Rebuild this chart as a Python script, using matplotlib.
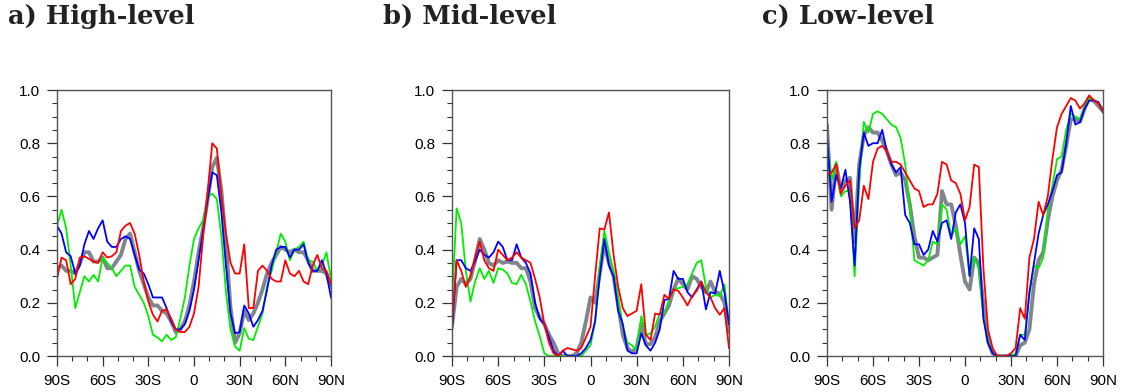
import numpy as np
import matplotlib
matplotlib.use("Agg")
import matplotlib.pyplot as plt
from matplotlib.ticker import MultipleLocator

# latitude grid, 3 degree spacing from 90S to 90N
lat = np.arange(-90, 91, 3)

xtick_pos = [-90, -60, -30, 0, 30, 60, 90]
xtick_lab = ["90S", "60S", "30S", "0", "30N", "60N", "90N"]
titles = ["a) High-level", "b) Mid-level", "c) Low-level"]

# -------------------------------
# a) high-level
# -------------------------------
high_gray = [0.33, 0.34, 0.32, 0.32, 0.31, 0.35, 0.39, 0.39, 0.355, 0.355, 0.37, 0.33, 0.33, 0.355, 0.38, 0.44,
             0.46, 0.39, 0.32, 0.27, 0.22, 0.19, 0.19, 0.17, 0.16, 0.13, 0.09, 0.10, 0.13, 0.19, 0.28,
             0.39, 0.48, 0.59, 0.71, 0.745, 0.62, 0.42, 0.18, 0.05, 0.085, 0.17, 0.135, 0.16, 0.20, 0.25,
             0.31, 0.35, 0.38, 0.41, 0.40, 0.39, 0.40, 0.39, 0.39, 0.36, 0.32, 0.32, 0.32, 0.31, 0.26]
high_blue = [0.49, 0.46, 0.39, 0.375, 0.31, 0.34, 0.42, 0.47, 0.44, 0.48, 0.51, 0.43, 0.41, 0.41, 0.44, 0.45,
             0.44, 0.38, 0.325, 0.31, 0.27, 0.22, 0.22, 0.22, 0.18, 0.13, 0.10, 0.10, 0.12, 0.17, 0.25,
             0.36, 0.47, 0.59, 0.69, 0.68, 0.54, 0.34, 0.16, 0.085, 0.09, 0.19, 0.16, 0.11, 0.135, 0.17,
             0.25, 0.34, 0.40, 0.41, 0.41, 0.37, 0.40, 0.40, 0.42, 0.35, 0.32, 0.32, 0.36, 0.31, 0.22]
high_red = [0.29, 0.37, 0.36, 0.27, 0.29, 0.37, 0.375, 0.365, 0.355, 0.35, 0.39, 0.37, 0.375, 0.39, 0.47, 0.49,
            0.50, 0.46, 0.38, 0.28, 0.205, 0.155, 0.13, 0.17, 0.175, 0.14, 0.10, 0.09, 0.09, 0.11, 0.16,
            0.26, 0.45, 0.62, 0.80, 0.78, 0.60, 0.46, 0.35, 0.31, 0.31, 0.42, 0.18, 0.18, 0.32, 0.34,
            0.32, 0.29, 0.28, 0.28, 0.36, 0.31, 0.30, 0.32, 0.28, 0.27, 0.34, 0.38, 0.33, 0.32, 0.27]
high_green = [0.49, 0.55, 0.48, 0.34, 0.18, 0.24, 0.30, 0.28, 0.305, 0.28, 0.37, 0.35, 0.33, 0.30, 0.32, 0.34,
              0.34, 0.26, 0.23, 0.20, 0.15, 0.08, 0.07, 0.055, 0.08, 0.06, 0.07, 0.14, 0.22, 0.34, 0.44,
              0.48, 0.51, 0.60, 0.61, 0.59, 0.45, 0.24, 0.10, 0.035, 0.02, 0.105, 0.065, 0.06, 0.11, 0.16,
              0.26, 0.32, 0.39, 0.46, 0.43, 0.36, 0.40, 0.41, 0.43, 0.36, 0.355, 0.32, 0.34, 0.39, 0.29]

# -------------------------------
# b) mid-level
# -------------------------------
mid_gray = [0.11, 0.26, 0.29, 0.27, 0.29, 0.36, 0.44, 0.40, 0.35, 0.34, 0.36, 0.35, 0.355, 0.35, 0.35, 0.33,
            0.33, 0.28, 0.18, 0.145, 0.12, 0.08, 0.05, 0.01, 0.0, 0.0, 0.0, 0.01, 0.05, 0.13, 0.22,
            0.20, 0.31, 0.42, 0.35, 0.30, 0.19, 0.08, 0.03, 0.015, 0.03, 0.12, 0.045, 0.045, 0.07, 0.13,
            0.16, 0.19, 0.25, 0.29, 0.27, 0.25, 0.30, 0.29, 0.26, 0.24, 0.28, 0.24, 0.235, 0.20, 0.09]
mid_blue = [0.10, 0.36, 0.36, 0.33, 0.32, 0.355, 0.40, 0.38, 0.37, 0.39, 0.43, 0.41, 0.36, 0.36, 0.42, 0.37,
            0.35, 0.31, 0.20, 0.14, 0.12, 0.07, 0.02, 0.0, 0.02, 0.0, 0.0, 0.0, 0.01, 0.03, 0.06,
            0.13, 0.30, 0.44, 0.34, 0.30, 0.17, 0.12, 0.02, 0.01, 0.01, 0.085, 0.04, 0.02, 0.05, 0.10,
            0.21, 0.215, 0.32, 0.29, 0.29, 0.24, 0.22, 0.25, 0.28, 0.175, 0.24, 0.235, 0.32, 0.24, 0.12]
mid_red = [0.12, 0.36, 0.32, 0.26, 0.30, 0.37, 0.43, 0.36, 0.33, 0.32, 0.40, 0.38, 0.36, 0.37, 0.39, 0.37,
           0.36, 0.35, 0.29, 0.22, 0.12, 0.05, 0.01, 0.0, 0.02, 0.03, 0.025, 0.02, 0.03, 0.07, 0.11,
           0.30, 0.48, 0.475, 0.54, 0.38, 0.26, 0.18, 0.15, 0.16, 0.17, 0.27, 0.08, 0.06, 0.16, 0.155,
           0.23, 0.215, 0.25, 0.245, 0.22, 0.19, 0.225, 0.245, 0.28, 0.24, 0.22, 0.18, 0.155, 0.18, 0.03]
mid_green = [0.20, 0.555, 0.50, 0.32, 0.205, 0.28, 0.33, 0.29, 0.32, 0.275, 0.33, 0.325, 0.31, 0.275, 0.27, 0.305,
             0.27, 0.205, 0.13, 0.075, 0.01, 0.0, 0.0, 0.0, 0.0, 0.0, 0.0, 0.0, 0.0, 0.02, 0.04,
             0.13, 0.34, 0.47, 0.39, 0.32, 0.22, 0.11, 0.05, 0.04, 0.02, 0.15, 0.08, 0.085, 0.11, 0.16,
             0.16, 0.21, 0.25, 0.255, 0.26, 0.27, 0.31, 0.35, 0.36, 0.26, 0.22, 0.23, 0.225, 0.27, 0.12]

# -------------------------------
# c) low-level
# -------------------------------
low_gray = [0.865, 0.55, 0.72, 0.62, 0.66, 0.67, 0.43, 0.72, 0.83, 0.86, 0.84, 0.84, 0.81, 0.77, 0.72, 0.68,
            0.69, 0.66, 0.57, 0.45, 0.37, 0.37, 0.36, 0.37, 0.38, 0.62, 0.57, 0.57, 0.49, 0.38, 0.28,
            0.25, 0.37, 0.35, 0.19, 0.055, 0.01, 0.0, 0.0, 0.0, 0.0, 0.0, 0.04, 0.05, 0.10, 0.27,
            0.36, 0.39, 0.51, 0.60, 0.66, 0.70, 0.79, 0.89, 0.89, 0.88, 0.93, 0.97, 0.96, 0.94, 0.92]
low_blue = [0.83, 0.58, 0.68, 0.63, 0.70, 0.58, 0.34, 0.70, 0.84, 0.79, 0.80, 0.80, 0.85, 0.77, 0.72, 0.69,
            0.71, 0.53, 0.50, 0.42, 0.42, 0.38, 0.40, 0.47, 0.43, 0.50, 0.51, 0.44, 0.54, 0.57, 0.50,
            0.30, 0.48, 0.44, 0.14, 0.05, 0.01, 0.0, 0.0, 0.0, 0.0, 0.0, 0.08, 0.06, 0.24, 0.35,
            0.46, 0.53, 0.57, 0.62, 0.68, 0.69, 0.80, 0.94, 0.87, 0.88, 0.93, 0.96, 0.96, 0.955, 0.92]
low_red = [0.68, 0.69, 0.72, 0.61, 0.64, 0.66, 0.48, 0.51, 0.64, 0.59, 0.73, 0.78, 0.79, 0.77, 0.73, 0.73,
           0.72, 0.69, 0.66, 0.63, 0.62, 0.56, 0.57, 0.57, 0.61, 0.73, 0.72, 0.66, 0.65, 0.61, 0.51,
           0.56, 0.72, 0.71, 0.33, 0.10, 0.03, 0.0, 0.0, 0.0, 0.01, 0.03, 0.18, 0.14, 0.37, 0.44,
           0.58, 0.53, 0.60, 0.74, 0.86, 0.91, 0.94, 0.97, 0.96, 0.93, 0.95, 0.98, 0.96, 0.95, 0.92]
low_green = [0.81, 0.66, 0.73, 0.60, 0.62, 0.62, 0.30, 0.65, 0.88, 0.84, 0.91, 0.92, 0.91, 0.89, 0.87, 0.86,
             0.82, 0.72, 0.56, 0.36, 0.35, 0.34, 0.36, 0.43, 0.42, 0.57, 0.55, 0.45, 0.48, 0.42, 0.45,
             0.30, 0.37, 0.33, 0.15, 0.06, 0.01, 0.0, 0.0, 0.0, 0.0, 0.01, 0.08, 0.08, 0.23, 0.34,
             0.33, 0.37, 0.55, 0.64, 0.74, 0.75, 0.85, 0.91, 0.90, 0.89, 0.94, 0.97, 0.96, 0.95, 0.93]

panels = [
    (high_gray, high_green, high_blue, high_red),
    (mid_gray, mid_green, mid_blue, mid_red),
    (low_gray, low_green, low_blue, low_red),
]

# axes positions in figure fraction
lefts = [57 / 1122, 452 / 1122, 827 / 1122]
widths = [274 / 1122, 277 / 1122, 276 / 1122]
title_x = [8 / 1122, 383 / 1122, 762 / 1122]
bottom = 36 / 392
height = 266 / 392

fig = plt.figure(figsize=(11.22, 3.92), dpi=100)

for i, (gray, green, blue, red) in enumerate(panels):
    ax = fig.add_axes([lefts[i], bottom, widths[i], height])
    ax.plot(lat, gray, color="#7f868e", lw=2.8, solid_joinstyle="round")
    ax.plot(lat, green, color="#00ee00", lw=1.3)
    ax.plot(lat, blue, color="#0000ff", lw=1.3)
    ax.plot(lat, red, color="#ff0000", lw=1.3)

    ax.set_xlim(-90, 90)
    ax.set_ylim(0, 1)
    ax.set_xticks(xtick_pos)
    ax.set_xticklabels(xtick_lab)
    ax.xaxis.set_minor_locator(MultipleLocator(10))
    ax.set_yticks(np.arange(0, 1.01, 0.2))
    ax.set_yticklabels([f"{v:.1f}" for v in np.arange(0, 1.01, 0.2)])
    ax.yaxis.set_minor_locator(MultipleLocator(0.05))

    ax.tick_params(which="both", direction="out", top=False, right=False, color="#333333")
    ax.tick_params(which="major", length=7, width=0.9, labelsize=11, pad=5)
    ax.tick_params(which="minor", length=3.5, width=0.8)
    ax.tick_params(axis="x", which="major", pad=6)
    for lab in ax.get_xticklabels() + ax.get_yticklabels():
        lab.set_fontfamily("Liberation Sans")
    for sp in ax.spines.values():
        sp.set_color("#555555")
        sp.set_linewidth(1.0)

    fig.text(title_x[i], 1 - 24 / 392, titles[i], fontfamily="DejaVu Serif", fontweight="bold",
             fontsize=18.5, va="baseline", ha="left", color="#222222")

fig.savefig("out.png", dpi=100)
